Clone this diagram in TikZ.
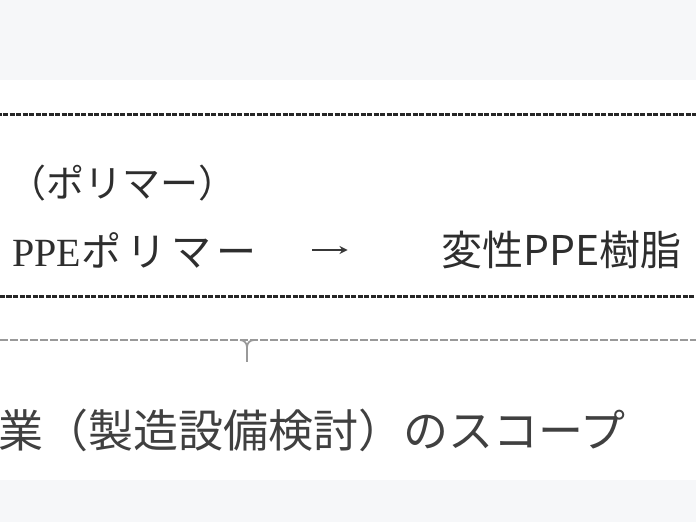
\documentclass[tikz,border=0pt]{standalone}
\usepackage{fontspec}
\setmainfont{Liberation Serif}
\newfontfamily\jp{Noto Sans CJK JP}
\usepackage{tikz}
\usetikzlibrary{arrows.meta}
\definecolor{franja}{RGB}{246,247,249}

\begin{document}
\begin{tikzpicture}[x=1pt,y=1pt,
  txt/.style={inner sep=0pt,text=black!82},
  marco/.style={line width=3pt,black!85,dash pattern=on 5pt off 1.5pt},
  llave/.style={line width=1.8pt,black!40,dash pattern=on 8pt off 2pt},
  flecha/.style={line width=2.4pt,black!78,-{Stealth[length=8pt,width=8pt]}}]
\useasboundingbox (0,0) rectangle (696,522);
% Franjas grises
\fill[franja] (0,442) rectangle (696,522);
\fill[franja] (0,0) rectangle (696,42);
% Marco discontinuo
\draw[marco] (-10,225) rectangle (706,407);
% Textos
\node[txt,anchor=west,font=\jp\fontsize{38}{44}\selectfont] (polimero) at (8,339) {（ポリマー）};
\node[txt,anchor=west,font=\jp\fontsize{40}{48}\selectfont] (ppe) at (12,272)
  {{\rmfamily PPE}ポ\kern5ptリ\kern5ptマ\kern5ptー};
\node[txt,anchor=east,font=\jp\fontsize{41}{48}\selectfont] (modif) at (682,272) {変性PPE樹脂};
\draw[flecha,shorten <=56pt,shorten >=94pt] (ppe.east) -- (modif.west);
% Llave
\draw[llave] (-10,182) -- (706,182);
\draw[llave,solid] (240,182) to[out=0,in=90] (247,175) -- (247,160);
\draw[llave,solid] (254,182) to[out=180,in=90] (247,175);
\node[txt,anchor=west,text=black!75,font=\jp\fontsize{45}{52}\selectfont] (alcance) at (-2,92)
  {業（製造設備検討）のスコープ};
\end{tikzpicture}
\end{document}
